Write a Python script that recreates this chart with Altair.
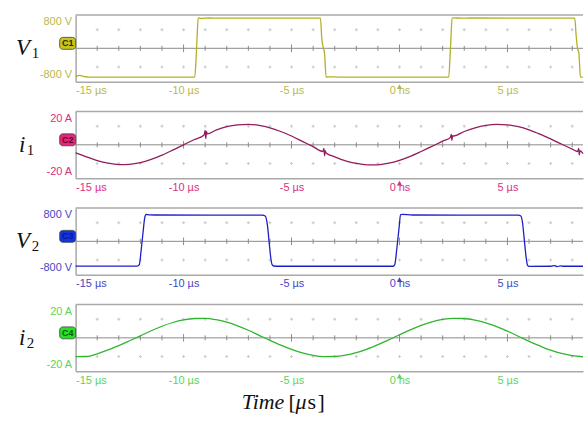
import altair as alt
import pandas as pd

# ---------------- data ----------------
T_MIN, T_MAX = -15.0, 8.5
X_TICKS = [-15, -10, -5, 0, 5]

v1_t = [-15.0, -14.8, -14.6, -14.4, -9.48, -9.42, -9.37, -9.32, -9.2, -8.8, -8.4,
        -3.66, -3.60, -3.53, -3.47, -3.40, -3.2, -2.8, 2.28, 2.36, 2.44, 2.5, 2.9, 3.3,
        8.12, 8.18, 8.24, 8.31, 8.38, 8.5]
v1_v = [-850, -815, -850, -865, -865, -300, 400, 915, 900, 910, 905,
        905, 300, 20, -150, -865, -855, -865, -865, 0, 900, 915, 905, 910,
        905, 400, 20, -150, -865, -865]

v2_t = [-15.0, -12.15, -12.05, -11.97, -11.88, -11.8, -11.74, -11.6, -11.3,
        -6.35, -6.22, -6.12, -6.04, -5.96, -5.9, -5.82, -5.6,
        -0.3, -0.22, -0.12, -0.02, 0.05, 0.12, 0.6,
        5.5, 5.62, 5.7, 5.78, 5.86, 5.93, 6.0, 7.0, 7.2, 7.3, 7.45, 7.6, 8.5]
v2_v = [-745, -745, -700, -300, 250, 700, 805, 795, 790,
        785, 760, 500, 0, -500, -700, -740, -748,
        -748, -700, -200, 400, 795, 810, 790,
        785, 760, 550, 50, -450, -720, -750, -748, -730, -760, -735, -748, -748]

i1_t = [-15.0, -14.5, -14.0, -13.5, -13.0, -12.5, -12.0, -11.5, -11.0, -10.5, -10.0, -9.5,
        -9.05, -9.0, -8.97, -8.94, -8.9, -8.5, -8.0, -7.5, -7.0, -6.5, -6.0, -5.5, -5.0,
        -4.5, -4.0, -3.55, -3.5, -3.47, -3.44, -3.4, -3.0, -2.5, -2.0, -1.5, -1.0, -0.5,
        0.0, 0.5, 1.0, 1.5, 2.0, 2.35, 2.4, 2.43, 2.46, 2.5, 3.0, 3.5, 4.0, 4.5, 5.0,
        5.5, 6.0, 6.5, 7.0, 7.5, 8.0, 8.25, 8.3, 8.33, 8.36, 8.5]
i1_v = [-6.0, -9.0, -11.8, -13.8, -14.8, -14.6, -13.4, -11.0, -7.8, -4.0, 0.0, 4.0,
        7.4, 10.8, 4.6, 10.0, 8.2, 11.0, 13.6, 15.0, 15.4, 14.6, 12.8, 10.0, 6.6,
        2.6, -1.4, -5.0, -2.6, -8.2, -4.4, -6.2, -9.0, -12.0, -14.0, -15.0, -15.0, -13.8,
        -11.6, -8.6, -5.0, -1.2, 2.8, 5.4, 7.8, 3.4, 6.8, 6.6, 10.0, 12.8, 14.6, 15.4, 15.0,
        13.6, 11.2, 8.0, 4.4, 0.6, -3.2, -5.0, -2.6, -7.6, -4.4, -6.6]

i2_t = [-15.0, -14.5, -14.0, -13.5, -13.0, -12.5, -12.0, -11.5, -11.0, -10.5, -10.0, -9.5,
        -9.0, -8.5, -8.0, -7.5, -7.0, -6.5, -6.0, -5.5, -5.0, -4.5, -4.0, -3.5, -3.0,
        -2.5, -2.0, -1.5, -1.0, -0.5, 0.0, 0.5, 1.0, 1.5, 2.0, 2.5, 3.0, 3.5, 4.0, 4.5,
        5.0, 5.5, 6.0, 6.5, 7.0, 7.5, 8.0, 8.5]
i2_v = [-14.1, -14.0, -12.0, -9.0, -5.8, -2.2, 1.5, 5.3, 8.7, 11.5, 13.5, 14.5,
        14.6, 13.6, 11.7, 9.0, 5.7, 1.9, -1.9, -5.5, -8.7, -11.3, -13.2, -14.1, -14.0,
        -13.0, -11.1, -8.4, -5.1, -1.5, 2.3, 6.0, 9.3, 12.0, 13.8, 14.6, 14.5, 13.3, 11.3, 8.4,
        5.0, 1.2, -2.6, -6.1, -9.3, -11.7, -13.4, -14.2]

# ---------------- layout / style ----------------
W, H = 510, 67
BORDER = "#a9a9a9"
CENTER = "#8a8a8a"
ONE = pd.DataFrame({"t": [0.0]})


def txt(text, x, y, size, italic=False, color="#111111"):
    kw = dict(text=text, font="Liberation Serif", fontSize=size, color=color,
              align="left", baseline="alphabetic")
    if italic:
        kw["fontStyle"] = "italic"
    return alt.Chart(ONE).mark_text(**kw).encode(x=alt.value(x), y=alt.value(y))


def panel(t, v, ymax, yvals, unit, trace_color, lab_color, badge_fill, badge_txt,
          badge_txt_color, sym, sub, sym_x, sub_x, time_label=False):
    xs = alt.Scale(domain=[T_MIN, T_MAX], nice=False, zero=False)
    ys = alt.Scale(domain=[-ymax, ymax], nice=False, zero=False)
    df = pd.DataFrame({"t": t, "v": v})

    x_axis = alt.Axis(values=X_TICKS, title=None, grid=False, ticks=False,
                      domainColor=BORDER, domainWidth=1.5,
                      labelExpr="datum.value == 0 ? '0 ns' : datum.value + ' µs'",
                      labelColor=lab_color, labelFont="Liberation Sans", labelFontSize=11,
                      labelPadding=3, labelFlush=True)
    y_axis = alt.Axis(values=yvals, title=None, grid=False, ticks=False,
                      domainColor=BORDER, domainWidth=1.5,
                      labelExpr=f"datum.value + ' {unit}'",
                      labelColor=lab_color, labelFont="Liberation Sans", labelFontSize=11,
                      labelPadding=4)

    X = alt.X("t:Q", scale=xs)
    Y = alt.Y("v:Q", scale=ys)

    # grid dots (carries the axes)
    dots = pd.DataFrame([(k, s * 0.56 * ymax) for k in range(-14, 9) for s in (-1, 1)],
                        columns=["t", "v"])
    dot_layer = alt.Chart(dots).mark_point(shape="cross", filled=True, size=9,
                                           color="#cdcdcd", opacity=1).encode(
        x=alt.X("t:Q", scale=xs, axis=x_axis), y=alt.Y("v:Q", scale=ys, axis=y_axis))

    center = alt.Chart(ONE).mark_rule(color=CENTER, strokeWidth=1).encode(
        x=alt.value(0), x2=alt.value(W), y=alt.value(H / 2))

    tk = []
    for k in range(-14, 9):
        big = k in (-10, -5, 0, 5)
        h = (3.8 if big else 2.5) * ymax / (H / 2)
        tk.append((k, -h, h))
    tick_df = pd.DataFrame(tk, columns=["t", "v", "v2"])
    ticks = alt.Chart(tick_df).mark_rule(color=CENTER, strokeWidth=1).encode(
        x=X, y=Y, y2="v2:Q")

    top = alt.Chart(ONE).mark_rule(color=BORDER, strokeWidth=1.5).encode(
        x=alt.value(0), x2=alt.value(W), y=alt.value(0))

    trace = alt.Chart(df).mark_line(color=trace_color, strokeWidth=1.3,
                                    interpolate="monotone").encode(x=X, y=Y)

    trig = alt.Chart(ONE).mark_point(shape="triangle-up", filled=True, size=28,
                                     color=lab_color, opacity=1).encode(
        x=X, y=alt.value(H + 5))

    badge = alt.Chart(ONE).mark_rect(cornerRadius=3, color=badge_fill, stroke="#404040",
                                     strokeWidth=0.8).encode(
        x=alt.value(-16), x2=alt.value(0), y=alt.value(H / 2 - 11), y2=alt.value(H / 2 + 1))
    badge_t = alt.Chart(ONE).mark_text(text=badge_txt, font="Liberation Sans", fontSize=9,
                                       fontWeight="bold", color=badge_txt_color,
                                       align="center", baseline="middle").encode(
        x=alt.value(-8), y=alt.value(H / 2 - 5))

    lab_main = txt(sym, sym_x, H / 2 + 7, 23, italic=True)
    lab_sub = txt(sub, sub_x, H / 2 + 10, 15)

    layers = [dot_layer, center, ticks, top, trace, trig, badge, badge_t, lab_main, lab_sub]

    if time_label:
        ty = H + 38
        layers += [txt("Time", 167, ty, 22, italic=True),
                   txt("[", 214, ty, 22),
                   txt("μ", 221, ty, 22, italic=True),
                   txt("s", 233, ty, 22),
                   txt("]", 243, ty, 22)]

    return alt.layer(*layers).properties(width=W, height=H)


p1 = panel(v1_t, v1_v, 1000, [-800, 800], "V", "#b3b025", "#b9b94a", "#c9c41c", "C1",
           "#2a2a00", "V", "1", -60, -44)
p2 = panel(i1_t, i1_v, 25, [-20, 20], "A", "#921c5c", "#d8307f", "#e3287a", "C2",
           "#6a0030", "i", "1", -57, -49)
p3 = panel(v2_t, v2_v, 1000, [-800, 800], "V", "#1e1ec8", "#4646c4", "#1034e0", "C3",
           "#0a1a90", "V", "2", -60, -44)
p4 = panel(i2_t, i2_v, 25, [-20, 20], "A", "#2fb52f", "#5ad55a", "#27e027", "C4",
           "#0b5a0b", "i", "2", -57, -49, time_label=True)

chart = alt.vconcat(p1, p2, p3, p4, spacing=15).properties(
    padding={"left": 16, "top": 13, "right": 0, "bottom": 0}
).configure_view(stroke=None)

chart.save("out.html", embed_options={"renderer": "svg", "actions": False})
